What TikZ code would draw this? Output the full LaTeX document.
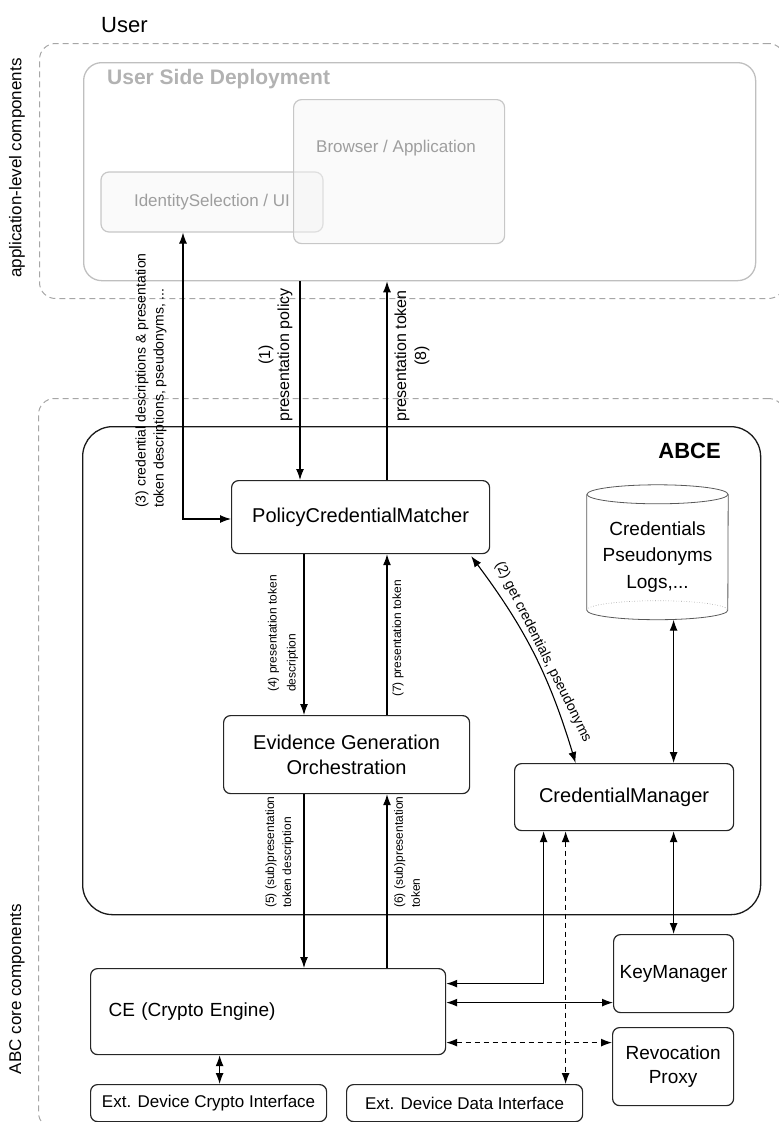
\documentclass[tikz,border=0pt]{standalone}
\usepackage{fontspec}
\setmainfont{Liberation Sans}
\usetikzlibrary{arrows.meta,calc}

\newcommand{\fsz}[2]{\fontsize{#1}{#2}\selectfont}

\tikzset{
  comp/.style={draw=black!85, line width=1.2pt, rounded corners=7pt, fill=white,
    font=\fsz{20}{25}, align=center, inner sep=0pt},
  app/.style={draw=black!22, line width=1.2pt, rounded corners=8pt, fill=black!4,
    fill opacity=0.5, text opacity=1, text=black!38, font=\fsz{17}{20}, inner sep=0pt},
  group/.style={draw=black!35, line width=1pt, dash pattern=on 6pt off 4pt,
    rounded corners=16pt, inner sep=0pt},
  flow/.style={line width=1.1pt, -{Latex[length=11pt,width=8pt]}},
  both/.style={line width=1.1pt, {Latex[length=11pt,width=8pt]}-{Latex[length=11pt,width=8pt]}},
  lbl/.style={rotate=90, font=\fsz{12}{17}, align=left, inner sep=0pt},
  grouplbl/.style={rotate=90, font=\fsz{17}{20}, inner sep=0pt},
  cyl/.style={draw=black!65, line width=0.8pt},
}

\begin{document}
\begin{tikzpicture}[x=1pt,y=-1pt]
\useasboundingbox (0,0) rectangle (779,1122);
\clip (0,0) rectangle (779,1122);

% ---------- user side ----------
\node[anchor=west, font=\fsz{22}{26}, inner sep=0pt] (user) at (101,25) {User};
\node[group, minimum width=745pt, minimum height=255pt, anchor=north west] (applevel) at (39,43) {};
\node[grouplbl] (applbl) at (17,168) {application-level components};

\node[draw=black!25, line width=1.3pt, rounded corners=18pt, minimum width=672pt,
      minimum height=218pt, anchor=north west, inner sep=0pt] (usd) at (83,62) {};
\node[anchor=west, font=\bfseries\fsz{21}{25}, text=black!30, inner sep=0pt] (usdtitle) at (107,79) {User Side Deployment};

\node[app, minimum width=222pt, minimum height=60pt] (idsel) at (212,202) {IdentitySelection / UI};
\node[app, minimum width=211pt, minimum height=144pt, anchor=north west] (browser) at (293,99) {};
\node[text=black!38, font=\fsz{17}{20}, inner sep=0pt] (browsertxt) at (396,148) {Browser / Application};

% ---------- core components ----------
\node[group, minimum width=746pt, minimum height=730pt, anchor=north west] (abclevel) at (38,398) {};
\node[grouplbl] (abclbl) at (17,989) {ABC core components};

\node[draw=black!90, line width=1.3pt, rounded corners=30pt, minimum width=678pt,
      minimum height=488pt, anchor=north west, inner sep=0pt] (abce) at (82,426) {};
\node[anchor=east, font=\bfseries\fsz{22}{26}, inner sep=0pt] (abcetitle) at (721,451) {ABCE};

\node[comp, minimum width=258pt, minimum height=73pt, anchor=north west] (pcm) at (231,480) {PolicyCredentialMatcher};
\node[comp, minimum width=246pt, minimum height=78pt, anchor=north west] (ego) at (223,715) {Evidence Generation\\Orchestration};
\node[comp, minimum width=219pt, minimum height=67pt, anchor=north west] (cm) at (514,763) {CredentialManager};
\node[comp, minimum width=120pt, minimum height=78pt, anchor=north west, font=\fsz{19}{24}] (km) at (613,934) {KeyManager};
\node[comp, minimum width=121pt, minimum height=78pt, anchor=north west, font=\fsz{19}{24}] (rp) at (612,1027) {Revocation\\Proxy};
\node[comp, minimum height=86pt, anchor=north west, text width=319pt, align=left,
      inner xsep=18pt, font=\fsz{19}{24}] (ce) at (90,968) {CE (Crypto Engine)};
\node[comp, minimum width=236pt, minimum height=37pt, anchor=north west, font=\fsz{17}{20}] (extcrypto) at (90,1084) {Ext. Device Crypto Interface};
\node[comp, minimum width=236pt, minimum height=37pt, anchor=north west, font=\fsz{17}{20}] (extdata) at (346,1084) {Ext. Device Data Interface};

% credential store drawn as a cylinder
\node[minimum width=141pt, minimum height=125pt, inner sep=0pt, align=center,
      font=\fsz{19}{26.5}] (store) at (657.5,557) {Credentials\\Pseudonyms\\Logs,...};
\draw[cyl] (store.north) ellipse [x radius=70.5, y radius=9.5];
\draw[cyl] (store.north west) -- ($(store.south west)+(0,-9.5)$)
           arc[start angle=180, end angle=0, x radius=70.5, y radius=9.5]
           -- (store.north east);
\draw[cyl, draw=black!40, line width=0.6pt, dotted] ($(store.south west)+(0,-9.5)$)
           arc[start angle=180, end angle=360, x radius=70.5, y radius=9.5];

% ---------- connectors ----------
\coordinate (x1) at (300,0);
\coordinate (x4) at (304,0);
\coordinate (x8) at (387,0);
\coordinate (bend3) at (183,519);

\draw[both] (idsel.south -| bend3) -- (bend3) -- (pcm.west |- bend3);
\draw[flow] (usd.south -| x1) -- (pcm.north -| x1);
\draw[flow] (pcm.north -| x8) -- (usd.south -| x8);
\draw[flow] (pcm.south -| x4) -- (ego.north -| x4);
\draw[flow] (ego.north -| x8) -- (pcm.south -| x8);
\draw[flow] (ego.south -| x4) -- (ce.north -| x4);
\draw[flow] (ce.north -| x8) -- (ego.south -| x8);

\draw[both] ($(pcm.south east)+(-19,2)$) to[bend left=10] ($(cm.north)+(-48.5,0)$);
\node[rotate=-63.5, font=\fsz{14}{16}, inner sep=0pt] (l2) at (543,652) {(2) get credentials, pseudonyms};

\draw[both] (store.south -| km.north) -- (km.north |- cm.north);
\draw[both] (km.north |- cm.south) -- (km.north);
\draw[both] ($(cm.south)+(-80.5,0)$) |- ($(ce.east)+(0,-28)$);
\draw[both, dash pattern=on 5pt off 4pt] ($(cm.south)+(-58.5,0)$) -- ($(extdata.north)+(101,0)$);
\draw[both] ($(ce.east)+(0,-9)$) -- (km.west |- {$(ce.east)+(0,-9)$});
\draw[both, dash pattern=on 5pt off 4pt] ($(ce.east)+(0,31)$) -- (rp.west |- {$(ce.east)+(0,31)$});
\draw[both] ($(ce.south)+(-48.5,0)$) -- (extcrypto.north -| {$(ce.south)+(-48.5,0)$});

% ---------- connector labels ----------
\node[lbl, font=\fsz{14}{18}, anchor=west] (l3) at (151,508)
  {(3) credential descriptions \& presentation\\token descriptions, pseudonyms, ...};
\node[lbl, align=center, font=\fsz{16}{19}] (l1) at (275.5,355) {(1)\\presentation policy};
\node[lbl, align=center, font=\fsz{16}{20}] (l8) at (412,356) {presentation token\\(8)};
\node[lbl, anchor=west, font=\fsz{12}{19}] (l4) at (283,692) {(4) presentation token\\description};
\node[lbl, anchor=west] (l7) at (398,697) {(7) presentation token};
\node[lbl, anchor=west] (l5) at (279.5,908) {(5) (sub)presentation\\token description};
\node[lbl, anchor=west] (l6) at (407,908) {(6) (sub)presentation\\token};
\end{tikzpicture}
\end{document}
